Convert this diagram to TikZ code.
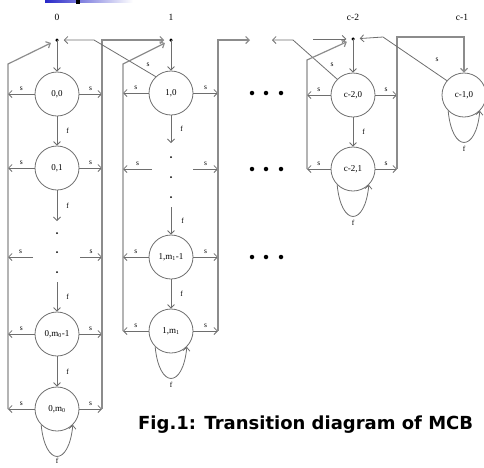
\documentclass[tikz,border=0pt]{standalone}
\usepackage{fontspec}
\setmainfont{Liberation Serif}
\newfontfamily\capfont{DejaVu Sans}
\usetikzlibrary{arrows.meta}
\definecolor{ln}{RGB}{110,110,110}
\definecolor{bl}{RGB}{140,140,140}
\definecolor{barblue}{RGB}{40,40,200}
\begin{document}
\begin{tikzpicture}[x=1pt,y=-1pt,
 st/.style={circle,draw=ln,line width=0.8pt,minimum size=44pt,inner sep=0pt,font=\fontsize{9}{10}\selectfont},
 hub/.style={circle,fill=black,minimum size=3.5pt,inner sep=0pt,outer sep=5pt},
 sm/.style={circle,fill=black,minimum size=2pt,inner sep=0pt},
 big/.style={circle,fill=black,minimum size=4.5pt,inner sep=0pt},
 arr/.style={draw=ln,line width=0.8pt,-{Straight Barb[length=3.5pt,width=7pt]}},
 bus/.style={draw=bl,line width=1.2pt,-{Straight Barb[length=3.5pt,width=7pt]}},
 lab/.style={font=\fontsize{7.5}{8}\selectfont,inner sep=0pt},
 col/.style={font=\fontsize{9.5}{10}\selectfont,inner sep=0pt},
]
\useasboundingbox (0,0) rectangle (484,467);
% fragment of heading bar
\shade[left color=barblue,right color=white] (45,0) rectangle (133,2.5);
\fill[black] (76,0) rectangle (80,4);

% column labels
\node[col] (t0) at (57,17) {0};
\node[col] (t1) at (171,17) {1};
\node[col] (t2) at (353,17) {c-2};
\node[col] (t3) at (462,17) {c-1};

% ---------- column 0 ----------
\node[hub] (dA) at (57,40) {};
\node[st] (n00) at (57,94) {0,0};
\node[st] (n01) at (57,168) {0,1};
\node[sm] (d01) at (57,233) {};
\node[sm] (d02) at (57,252) {};
\node[sm] (d03) at (57,272) {};
\node[st] (n0a) at (57,334) {0,m\textsubscript{0}-1};
\node[st] (n0b) at (57,409) {0,m\textsubscript{0}};
\coordinate (L0) at (8,64);
\coordinate (L0b) at (8,409);
\coordinate (R0) at (102,40);
\coordinate (R0b) at (102,409);
\coordinate (a01) at (57,221);
\coordinate (a02) at (57,282);
\coordinate (r0l) at (33,257);
\coordinate (r0r) at (80,257);

\draw[arr] (dA.center) -- (n00);
\draw[arr] (n00) -- (n01) node[lab,midway,right=9pt]{f};
\draw[arr] (n01) -- (a01) node[lab,midway,right=9pt]{f};
\draw[arr] (a02) -- (n0a) node[lab,midway,right=9pt]{f};
\draw[arr] (n0a) -- (n0b) node[lab,midway,right=9pt]{f};
\foreach \n in {n00,n01,n0a,n0b}{
  \draw[arr] (\n) -- (\n -| L0) node[lab,midway,above=3pt]{s};
  \draw[arr] (\n) -- (\n -| R0) node[lab,midway,above=3pt]{s};
}
\draw[arr] (r0l) -- (r0l -| L0) node[lab,midway,above=3pt]{s};
\draw[arr] (r0r) -- (r0r -| R0) node[lab,midway,above=3pt]{s};
\draw[arr] (n0b.225) .. controls +(4,42) and +(-4,42) .. (n0b.-45)
  node[lab,pos=0.5,below=1.5pt]{f};

% ---------- column 1 ----------
\node[hub] (dB) at (171,40) {};
\node[st] (n10) at (171,93) {1,0};
\node[sm] (d11) at (171,157) {};
\node[sm] (d12) at (171,177) {};
\node[sm] (d13) at (171,197) {};
\node[st] (n1a) at (171,257) {1,m\textsubscript{1}-1};
\node[st] (n1b) at (171,331) {1,m\textsubscript{1}};
\coordinate (L1) at (123,64);
\coordinate (L1b) at (123,331);
\coordinate (R1) at (218,40);
\coordinate (R1b) at (218,331);
\coordinate (R1e) at (250,40);
\coordinate (K0) at (94,40);
\coordinate (a11) at (171,143);
\coordinate (a12) at (171,207);
\coordinate (r1l) at (152,169);
\coordinate (r1r) at (193,169);

\draw[bus] (L0b) -- (L0) -- (dA);
\draw[bus] (R0b) -- (R0) -- (dB);
\draw[arr] (n10.133) -- (K0) -- (dA);
\node[lab] (s10) at (148,65) {s};

\draw[arr] (dB.center) -- (n10);
\draw[arr] (n10) -- (a11) node[lab,midway,right=9pt]{f};
\draw[arr] (a12) -- (n1a) node[lab,midway,right=10pt]{f};
\draw[arr] (n1a) -- (n1b) node[lab,midway,right=9pt]{f};
\foreach \n in {n10,n1a,n1b}{
  \draw[arr] (\n) -- (\n -| L1) node[lab,midway,above=3pt]{s};
  \draw[arr] (\n) -- (\n -| R1) node[lab,midway,above=3pt]{s};
}
\draw[arr] (r1l) -- (r1l -| L1) node[lab,midway,above=3pt]{s};
\draw[arr] (r1r) -- (r1r -| R1) node[lab,midway,above=3pt]{s};
\draw[arr] (n1b.225) .. controls +(4,42) and +(-4,42) .. (n1b.-45)
  node[lab,pos=0.5,below=3pt]{f};
\draw[bus] (L1b) -- (L1) -- (dB);
\draw[bus] (R1b) -- (R1) -- (R1e);

% ---------- ellipses ----------
\foreach \y [count=\k] in {93,169,257}{
  \node[big] (e\k a) at (252,\y) {};
  \node[big] (e\k b) at (266,\y) {};
  \node[big] (e\k c) at (281,\y) {};
}

% ---------- column c-2 ----------
\node[hub] (dC) at (353,39) {};
\node[st] (nc0) at (353,95) {c-2,0};
\node[st] (nc1) at (353,169) {c-2,1};
\coordinate (L2) at (307,60);
\coordinate (L2b) at (307,169);
\coordinate (R2) at (397,37);
\coordinate (R2b) at (397,169);
\coordinate (R2c) at (464,37);
\coordinate (K2) at (293,40);
\coordinate (K2e) at (272,40);
\coordinate (in2) at (313,39);

\draw[arr] (in2) -- (dC);
\draw[arr] (nc0.135) -- (K2) -- (K2e);
\node[lab] (s20) at (332,65) {s};
\draw[arr] (dC.center) -- (nc0);
\draw[arr] (nc0) -- (nc1) node[lab,midway,right=9pt]{f};
\foreach \n in {nc0,nc1}{
  \draw[arr] (\n) -- (\n -| L2) node[lab,midway,above=3pt]{s};
  \draw[arr] (\n) -- (\n -| R2) node[lab,midway,above=3pt]{s};
}
\draw[arr] (nc1.225) .. controls +(4,42) and +(-4,42) .. (nc1.-45)
  node[lab,pos=0.5,below=3pt]{f};
\draw[bus] (L2b) -- (L2) -- (dC);

% ---------- column c-1 ----------
\node[st] (nd) at (464,95) {c-1,0};
\coordinate (K3) at (383,37);
\draw[bus] (R2b) -- (R2) -- (R2c) -- (nd);
\draw[arr] (nd.140) -- (K3) -- (dC);
\node[lab] (s30) at (437,60) {s};
\draw[arr] (nd.225) .. controls +(4,42) and +(-4,42) .. (nd.-45)
  node[lab,pos=0.5,below=3pt]{f};

% ---------- caption ----------
\node[anchor=base west,inner sep=0pt,font=\capfont\bfseries\fontsize{18}{20}\selectfont] (cap) at (138,429) {Fig.1: Transition diagram of MCB};
\end{tikzpicture}
\end{document}
